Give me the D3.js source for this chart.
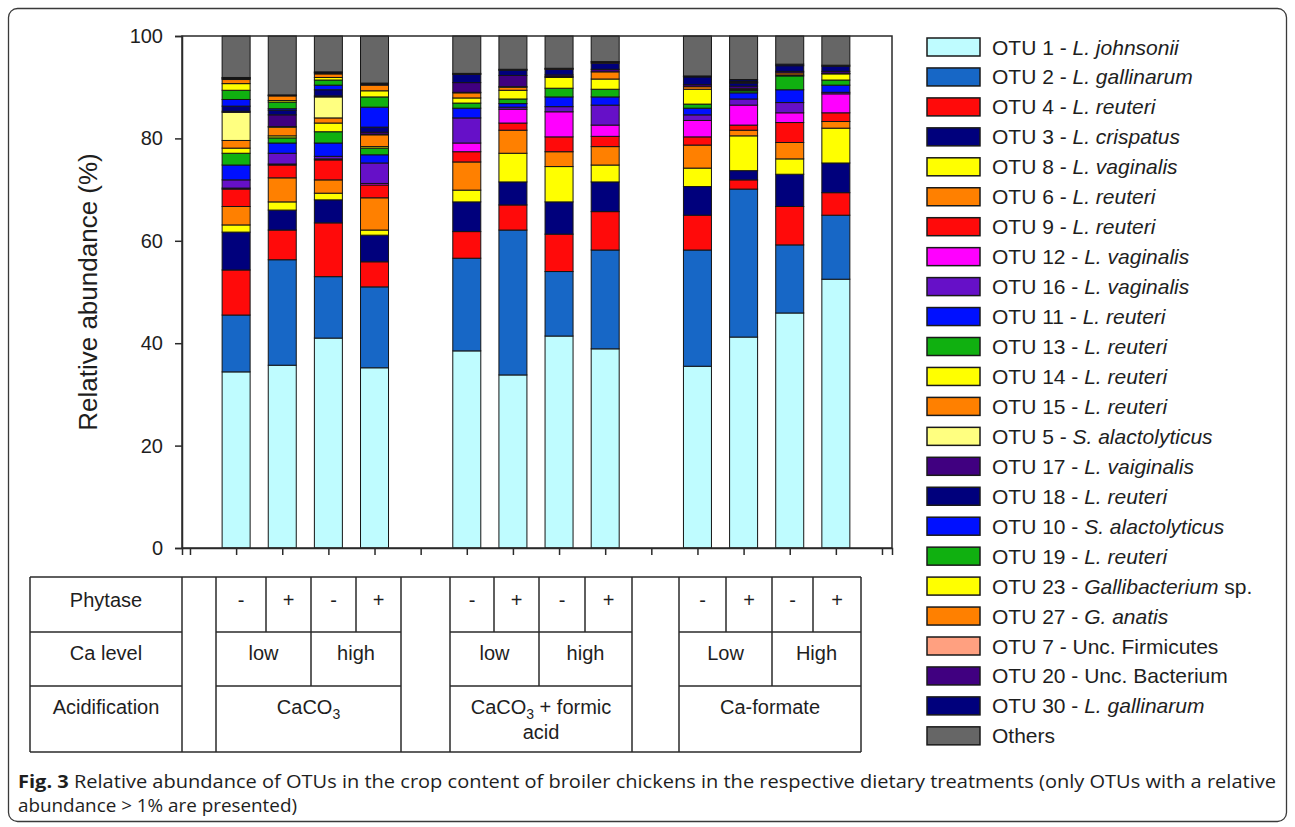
<!DOCTYPE html>
<html>
<head>
<meta charset="utf-8">
<script src="https://cdn.jsdelivr.net/npm/d3@7"></script>
<style>
  body { margin: 0; background: #fff; }
  svg { display: block; }
  text { font-family: "Liberation Sans", Arial, sans-serif; fill: #1e1e1e; }
</style>
</head>
<body>
<svg id="chart" width="1295" height="827"></svg>
<script>
// Treatments (bar order) and their slot on the x axis (gaps at 0, 5, 10, 15)
const treatments = [
  "CaCO3 low -", "CaCO3 low +", "CaCO3 high -", "CaCO3 high +",
  "CaCO3+FA low -", "CaCO3+FA low +", "CaCO3+FA high -", "CaCO3+FA high +",
  "Ca-formate Low -", "Ca-formate Low +", "Ca-formate High -", "Ca-formate High +"
];
const treatmentSlots = [1, 2, 3, 4, 6, 7, 8, 9, 11, 12, 13, 14];
const axisSlots = d3.range(0, 16);

// Series, bottom to top of each stack
const otuIds = ["OTU 1", "OTU 2", "OTU 4", "OTU 3", "OTU 8", "OTU 6", "OTU 9", "OTU 12",
  "OTU 16", "OTU 11", "OTU 13", "OTU 14", "OTU 15", "OTU 5", "OTU 17", "OTU 18",
  "OTU 10", "OTU 19", "OTU 23", "OTU 27", "OTU 7", "OTU 20", "OTU 30", "Others"];
const otuTaxa = ["L. johnsonii", "L. gallinarum", "L. reuteri", "L. crispatus", "L. vaginalis",
  "L. reuteri", "L. reuteri", "L. vaginalis", "L. vaginalis", "L. reuteri", "L. reuteri",
  "L. reuteri", "L. reuteri", "S. alactolyticus", "L. vaiginalis", "L. reuteri",
  "S. alactolyticus", "L. reuteri", "Gallibacterium", "G. anatis", "", "", "L. gallinarum", ""];
const otuTaxaPlain = ["", "", "", "", "", "", "", "", "", "", "", "", "", "", "", "", "", "",
  " sp.", "", "Unc. Firmicutes", "Unc. Bacterium", "", ""];
const otuColors = ["#bffcff", "#1767c6", "#ff0a0a", "#00007c", "#ffff00", "#ff8000",
  "#ff0a0a", "#ff00ff", "#6610c8", "#0010ff", "#10b010", "#ffff00", "#ff8000", "#ffff80",
  "#400080", "#00007c", "#0010ff", "#10b010", "#ffff00", "#ff8000", "#ffa080", "#400080",
  "#00007c", "#666666"];

// Relative abundance (%) per series, one value per treatment
const otu1   = [34.4, 35.7, 41.0, 35.2, 38.5, 33.8, 41.4, 38.9, 35.5, 41.2, 45.9, 52.5];
const otu2   = [11.1, 20.6, 12.0, 15.8, 18.1, 28.3, 12.6, 19.3, 22.7, 28.9, 13.3, 12.5];
const otu4   = [ 8.8,  5.8, 10.5,  4.9,  5.2,  4.9,  7.3,  7.5,  6.8,  1.8,  7.5,  4.4];
const otu3   = [ 7.4,  3.9,  4.5,  5.2,  5.8,  4.5,  6.3,  5.8,  5.6,  1.8,  6.3,  5.8];
const otu8   = [ 1.4,  1.6,  1.3,  1.0,  2.3,  5.6,  6.9,  3.3,  3.6,  6.8,  3.0,  6.8];
const otu6   = [ 3.6,  4.7,  2.6,  6.3,  5.5,  4.5,  2.9,  3.6,  4.5,  1.1,  3.2,  1.3];
const otu9   = [ 3.4,  2.5,  3.9,  2.5,  2.0,  1.4,  2.9,  2.0,  1.6,  1.0,  3.9,  1.7];
const otu12  = [ 0.2,  0.2,  0.2,  0.3,  1.7,  2.7,  4.9,  2.2,  3.2,  3.9,  1.9,  3.7];
const otu16  = [ 1.6,  2.1,  0.5,  4.0,  4.9,  0.4,  1.0,  3.9,  1.1,  1.2,  2.0,  0.3];
const otu11  = [ 2.9,  2.0,  2.6,  1.6,  1.9,  0.7,  1.9,  1.6,  1.3,  1.2,  2.5,  1.4];
const otu13  = [ 2.3,  1.0,  2.2,  1.3,  1.0,  0.9,  1.7,  1.5,  0.8,  0.4,  2.7,  1.0];
const otu14  = [ 1.0,  0.4,  1.7,  0.3,  1.0,  1.7,  2.1,  2.0,  2.9,  0.2,  0.2,  1.2];
const otu15  = [ 1.5,  1.7,  1.0,  2.3,  1.0,  0.6,  0.2,  1.4,  0.5,  0.2,  0.4,  0.1];
const otu5   = [ 5.5,  0.1,  4.1,  0.1,  0.1,  0.1,  0.0,  0.0,  0.0,  0.0,  0.0,  0.0];
const otu17  = [ 0.2,  2.3,  0.2,  0.4,  1.9,  2.2,  0.3,  0.5,  0.4,  0.5,  0.3,  0.4];
const otu18  = [ 1.0,  0.9,  1.2,  1.0,  1.6,  1.0,  1.1,  1.2,  1.5,  0.6,  1.1,  1.0];
const otu10  = [ 1.3,  0.3,  0.9,  3.9,  0.0,  0.1,  0.0,  0.0,  0.0,  0.1,  0.0,  0.0];
const otu19  = [ 1.8,  1.3,  1.0,  2.0,  0.0,  0.0,  0.0,  0.0,  0.0,  0.1,  0.0,  0.0];
const otu23  = [ 1.3,  0.3,  0.5,  1.2,  0.0,  0.0,  0.0,  0.0,  0.0,  0.0,  0.0,  0.0];
const otu27  = [ 0.8,  0.9,  0.7,  1.1,  0.1,  0.1,  0.1,  0.2,  0.0,  0.0,  0.0,  0.0];
const otu7   = [ 0.2,  0.1,  0.2,  0.2,  0.0,  0.0,  0.0,  0.0,  0.0,  0.0,  0.0,  0.0];
const otu20  = [ 0.1,  0.1,  0.1,  0.1,  0.1,  0.0,  0.1,  0.1,  0.1,  0.2,  0.0,  0.0];
const otu30  = [ 0.1,  0.0,  0.1,  0.1,  0.0,  0.0,  0.0,  0.0,  0.1,  0.3,  0.3,  0.2];
const others = [ 8.1, 11.5,  7.0,  9.2,  7.3,  6.5,  6.3,  5.0,  7.8,  8.5,  5.5,  5.7];

const seriesValues = [otu1, otu2, otu4, otu3, otu8, otu6, otu9, otu12, otu16, otu11, otu13,
  otu14, otu15, otu5, otu17, otu18, otu10, otu19, otu23, otu27, otu7, otu20, otu30, others];

const yTicks = [0, 20, 40, 60, 80, 100];

// Treatment table beneath the axis
const phytaseLabels = ["-", "+", "-", "+", "-", "+", "-", "+", "-", "+", "-", "+"];
const caLevelLabels = ["low", "high", "low", "high", "Low", "High"];
const rowLabels = ["Phytase", "Ca level", "Acidification"];

// ---- layout ----
const svg = d3.select("#chart");
const plot = { left: 182, right: 892, top: 36, bottom: 548 };
const ink = "#2a2a2a";

const x = d3.scaleLinear().domain([-0.173, 15.217]).range([plot.left, plot.right]);
const y = d3.scaleLinear().domain([0, 100]).range([plot.bottom, plot.top]);
const barWidth = 28;

// Outer rounded figure frame
svg.append("rect")
  .attr("x", 8.5).attr("y", 8.5).attr("width", 1278).attr("height", 813)
  .attr("rx", 9).attr("fill", "none").attr("stroke", "#3a3a3a").attr("stroke-width", 1.3);

// Stack the series
const rows = treatments.map((t, i) => {
  const r = { treatment: t, slot: treatmentSlots[i] };
  otuIds.forEach((id, k) => { r[id] = seriesValues[k][i]; });
  return r;
});
const stacked = d3.stack().keys(otuIds)(rows);

const bars = svg.append("g");
stacked.forEach((layer, k) => {
  bars.selectAll(null)
    .data(layer.filter(d => d[1] - d[0] > 0))
    .join("rect")
    .attr("x", d => x(d.data.slot) - barWidth / 2)
    .attr("width", barWidth)
    .attr("y", d => y(d[1]))
    .attr("height", d => y(d[0]) - y(d[1]))
    .attr("fill", otuColors[k])
    .attr("stroke", "#151515")
    .attr("stroke-width", 1);
});

// Frame around the plotting area
svg.append("rect")
  .attr("x", plot.left).attr("y", plot.top)
  .attr("width", plot.right - plot.left).attr("height", plot.bottom - plot.top)
  .attr("fill", "none").attr("stroke", ink).attr("stroke-width", 1.5);

// Y axis
const yAxis = svg.append("g")
  .attr("transform", `translate(${plot.left},0)`)
  .call(d3.axisLeft(y).tickValues(yTicks).tickSize(7).tickPadding(12).tickFormat(d3.format("d")));
yAxis.select(".domain").attr("stroke", ink).attr("stroke-width", 1.5);
yAxis.selectAll(".tick line").attr("stroke", ink).attr("stroke-width", 1.5);
yAxis.selectAll(".tick text")
  .style("font-family", '"Liberation Sans", Arial, sans-serif')
  .style("font-size", "20px").attr("fill", "#1e1e1e");

// X axis ticks (no labels, the table below carries them)
const xAxis = svg.append("g")
  .attr("transform", `translate(0,${plot.bottom})`)
  .call(d3.axisBottom(x).tickValues(axisSlots).tickSize(7).tickFormat(""));
xAxis.select(".domain").attr("stroke", ink).attr("stroke-width", 1.5);
xAxis.selectAll(".tick line").attr("stroke", ink).attr("stroke-width", 1.5);

// Y title
svg.append("text")
  .attr("transform", `translate(97,${(plot.top + plot.bottom) / 2}) rotate(-90)`)
  .attr("text-anchor", "middle")
  .style("font-size", "26px")
  .text("Relative abundance (%)");

// Legend
const legend = svg.append("g");
otuIds.forEach((id, k) => {
  const cy = 47 + k * 29.95;
  legend.append("rect")
    .attr("x", 927).attr("y", cy - 9).attr("width", 53).attr("height", 18)
    .attr("fill", otuColors[k]).attr("stroke", "#1a1a1a").attr("stroke-width", 1.5);
  const t = legend.append("text").attr("x", 992).attr("y", cy + 7.5).style("font-size", "21px");
  const hasTaxon = otuTaxa[k] !== "" || otuTaxaPlain[k] !== "";
  t.append("tspan").text(id + (hasTaxon ? " - " : ""));
  if (otuTaxa[k]) t.append("tspan").style("font-style", "italic").text(otuTaxa[k]);
  if (otuTaxaPlain[k]) t.append("tspan").text(otuTaxaPlain[k]);
});

// Treatment table
const table = svg.append("g").attr("stroke", ink).attr("stroke-width", 1.5);
const rowY = [577, 632, 686, 752];
const tableLeft = 30, labelRight = 182;
const groups = [
  { l: 216, r: 401, phy: [266, 311, 356], mid: 311 },
  { l: 450, r: 632, phy: [494, 539, 585], mid: 539 },
  { l: 679, r: 861, phy: [726, 772, 813], mid: 772 }
];
const line = (x1, y1, x2, y2) => table.append("line")
  .attr("x1", x1).attr("y1", y1).attr("x2", x2).attr("y2", y2);

line(tableLeft, rowY[0], groups[2].r, rowY[0]);
line(tableLeft, rowY[3], groups[2].r, rowY[3]);
[rowY[1], rowY[2]].forEach(yy => {
  line(tableLeft, yy, labelRight, yy);
  groups.forEach(g => line(g.l, yy, g.r, yy));
});
[tableLeft, labelRight].forEach(xx => line(xx, rowY[0], xx, rowY[3]));
groups.forEach(g => {
  line(g.l, rowY[0], g.l, rowY[3]);
  line(g.r, rowY[0], g.r, rowY[3]);
  line(g.phy[0], rowY[0], g.phy[0], rowY[1]);
  line(g.phy[2], rowY[0], g.phy[2], rowY[1]);
  line(g.mid, rowY[0], g.mid, rowY[2]);
});

const tableText = svg.append("g").attr("text-anchor", "middle").style("font-size", "20px");
rowLabels.forEach((lab, i) => {
  tableText.append("text").attr("x", (tableLeft + labelRight) / 2).attr("y", [607, 660, 714][i]).text(lab);
});
groups.forEach((g, gi) => {
  const edges = [g.l, g.phy[0], g.phy[1], g.phy[2], g.r];
  for (let c = 0; c < 4; c++) {
    tableText.append("text").attr("x", (edges[c] + edges[c + 1]) / 2).attr("y", 607)
      .text(phytaseLabels[gi * 4 + c]);
  }
  tableText.append("text").attr("x", (g.l + g.mid) / 2).attr("y", 660).text(caLevelLabels[gi * 2]);
  tableText.append("text").attr("x", (g.mid + g.r) / 2).attr("y", 660).text(caLevelLabels[gi * 2 + 1]);
});
// Acidification row
const caco3 = tableText.append("text").attr("x", (groups[0].l + groups[0].r) / 2).attr("y", 714);
caco3.append("tspan").text("CaCO");
caco3.append("tspan").attr("dy", 5).style("font-size", "14px").text("3");
const fa = tableText.append("text").attr("x", (groups[1].l + groups[1].r) / 2).attr("y", 714);
fa.append("tspan").text("CaCO");
fa.append("tspan").attr("dy", 5).style("font-size", "14px").text("3");
fa.append("tspan").attr("dy", -5).text(" + formic");
tableText.append("text").attr("x", (groups[1].l + groups[1].r) / 2).attr("y", 739).text("acid");
tableText.append("text").attr("x", (groups[2].l + groups[2].r) / 2).attr("y", 714).text("Ca-formate");

// Caption
const capFont = '"Liberation Sans Narrow", "Open Sans", "Liberation Sans", sans-serif';
const cap1 = svg.append("text").attr("x", 18).attr("y", 788)
  .attr("textLength", 1258).attr("lengthAdjust", "spacingAndGlyphs")
  .style("font-family", capFont).style("font-size", "18px");
cap1.append("tspan").style("font-weight", "bold").text("Fig. 3");
cap1.append("tspan").text(" Relative abundance of OTUs in the crop content of broiler chickens in the respective dietary treatments (only OTUs with a relative");
svg.append("text").attr("x", 18).attr("y", 812)
  .attr("textLength", 279).attr("lengthAdjust", "spacingAndGlyphs")
  .style("font-family", capFont).style("font-size", "18px")
  .text("abundance > 1% are presented)");
</script>
</body>
</html>
